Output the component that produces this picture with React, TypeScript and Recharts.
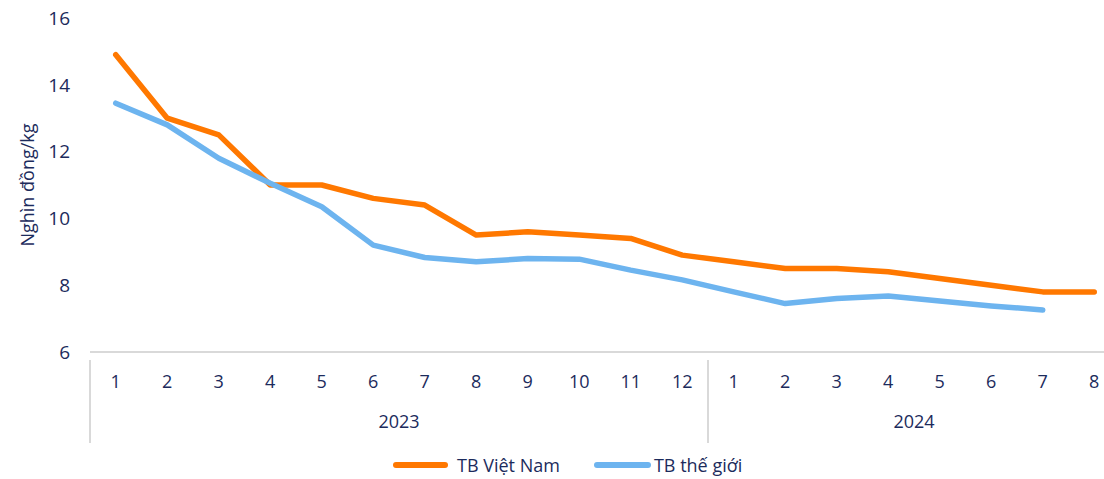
import React from 'react'
import { LineChart, Line, XAxis, YAxis } from 'recharts'

const months = ['1', '2', '3', '4', '5', '6', '7', '8', '9', '10', '11', '12', '1', '2', '3', '4', '5', '6', '7', '8']
const years = ['2023', '2023', '2023', '2023', '2023', '2023', '2023', '2023', '2023', '2023', '2023', '2023', '2024', '2024', '2024', '2024', '2024', '2024', '2024', '2024']
const vietNam = [14.9, 13.0, 12.5, 11.0, 11.0, 10.6, 10.4, 9.5, 9.6, 9.5, 9.4, 8.9, 8.7, 8.5, 8.5, 8.4, 8.2, 8.0, 7.8, 7.8]
const theGioi = [13.45, 12.8, 11.8, 11.05, 10.35, 9.2, 8.83, 8.7, 8.8, 8.78, 8.45, 8.16, 7.8, 7.45, 7.6, 7.68, 7.53, 7.38, 7.26, null]
const yTicks = [6, 8, 10, 12, 14, 16]

const data = months.map((m, i) => ({
  key: `${years[i]}-${m}`,
  month: m,
  year: years[i],
  vn: vietNam[i],
  tg: theGioi[i]
}))

const CHART_W = 1120
const CHART_H = 479
const Y_AXIS_W = 90
const STEP = (CHART_W - Y_AXIS_W) / months.length
const TEXT = '#1c2b5c'
const GRID = '#d9d9d9'
const ORANGE = '#ff7800'
const BLUE = '#6db4ef'
const FONT = '"Open Sans", sans-serif'

const MonthTick = (props: any) => {
  const { x, y, index } = props
  const d = data[index]
  const first = index === 0 || data[index - 1].year !== d.year
  let yearLabel = null
  let sep = null
  if (first) {
    const n = years.filter((yr) => yr === d.year).length
    const cx = x + ((n - 1) / 2) * STEP
    yearLabel = (
      <text x={cx} y={y + 68} textAnchor="middle" fill={TEXT} fontSize={18} fontFamily={FONT}>
        {d.year}
      </text>
    )
    sep = <line x1={x - STEP / 2} x2={x - STEP / 2} y1={y} y2={y + 83} stroke={GRID} strokeWidth={2} />
  }
  return (
    <g>
      {sep}
      <text x={x} y={y + 28} textAnchor="middle" fill={TEXT} fontSize={18} fontFamily={FONT}>
        {d.month}
      </text>
      {yearLabel}
    </g>
  )
}

const ChartLegend = () => (
  <div
    style={{
      position: 'absolute',
      left: 393,
      top: 453,
      display: 'flex',
      alignItems: 'center',
      fontFamily: FONT,
      fontSize: 18,
      color: TEXT,
      whiteSpace: 'nowrap'
    }}
  >
    <span style={{ display: 'inline-block', width: 55, height: 6, borderRadius: 3, background: ORANGE, marginRight: 9 }} />
    <span style={{ marginRight: 34 }}>TB Việt Nam</span>
    <span style={{ display: 'inline-block', width: 57, height: 6, borderRadius: 3, background: BLUE, marginRight: 3 }} />
    <span>TB thế giới</span>
  </div>
)

export default function App() {
  return (
    <div style={{ position: 'absolute', left: 0, top: 0, width: 1104, height: 479, overflow: 'hidden', background: '#fff' }}>
      <LineChart width={CHART_W} height={CHART_H} data={data} margin={{ top: 18, right: 0, bottom: 0, left: 0 }}>
        <XAxis
          dataKey="key"
          axisLine={{ stroke: GRID, strokeWidth: 2 }}
          tickLine={false}
          interval={0}
          height={127}
          padding={{ left: STEP / 2, right: STEP / 2 }}
          tick={<MonthTick />}
        />
        <YAxis
          domain={[6, 16]}
          ticks={yTicks}
          width={Y_AXIS_W}
          axisLine={false}
          tickLine={false}
          tickMargin={14}
          tick={{ fill: TEXT, fontSize: 19, fontFamily: FONT }}
          label={({ viewBox }: any) => (
            <text
              x={viewBox.x + 34}
              y={viewBox.y + viewBox.height / 2}
              transform={`rotate(-90 ${viewBox.x + 34} ${viewBox.y + viewBox.height / 2})`}
              textAnchor="middle"
              fill={TEXT}
              fontSize={18}
              fontFamily={FONT}
            >
              Nghìn đồng/kg
            </text>
          )}
        />
        <Line
          dataKey="vn"
          name="TB Việt Nam"
          stroke={ORANGE}
          strokeWidth={5.5}
          strokeLinecap="round"
          strokeLinejoin="round"
          dot={false}
          activeDot={false}
          isAnimationActive={false}
        />
        <Line
          dataKey="tg"
          name="TB thế giới"
          stroke={BLUE}
          strokeWidth={5.5}
          strokeLinecap="round"
          strokeLinejoin="round"
          dot={false}
          activeDot={false}
          isAnimationActive={false}
        />
      </LineChart>
      <ChartLegend />
    </div>
  )
}
